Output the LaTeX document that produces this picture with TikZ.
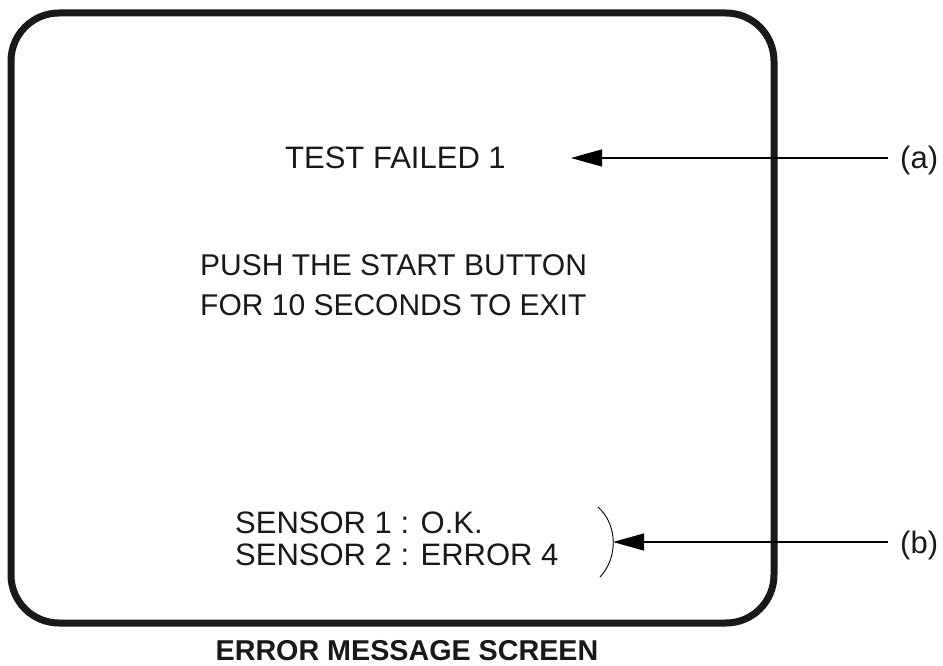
\documentclass[tikz,border=0pt]{standalone}
\usepackage{fontspec}
\setmainfont{Liberation Sans}
\usetikzlibrary{arrows.meta}
\begin{document}
\begin{tikzpicture}[x=1pt,y=-1pt,
  txt/.style={anchor=base west,inner sep=0pt,font=\fontsize{31}{34}\selectfont,text=black!90},
  lbl/.style={anchor=base west,inner sep=0pt,font=\fontsize{31}{34}\selectfont,text=black!90},
  ttl/.style={anchor=base,inner sep=0pt,font=\fontsize{28.7}{30}\selectfont\bfseries,text=black!90},
  ptr/.style={line width=1.2pt,-{Triangle[length=31pt,width=17pt]}},
  screen/.style={line width=7pt,rounded corners=48pt,draw=black!90}]
\useasboundingbox (0,0) rectangle (943,666);
\draw[screen] (11,13) rectangle (774,623);
\node[txt] (t1) at (285,168) {TEST FAILED 1};
\node[txt,font=\fontsize{30}{33}\selectfont] (p1) at (200,275) {PUSH THE START BUTTON};
\node[txt,font=\fontsize{30}{33}\selectfont] (p2) at (200,315) {FOR 10 SECONDS TO EXIT};
\node[txt] (s1) at (235,533) {SENSOR 1 : O.K.};
\node[txt] (s2) at (235,565) {SENSOR 2 : ERROR 4};
\node[lbl] (la) at (900,168) {(a)};
\node[lbl] (lb) at (900,553) {(b)};
\node[ttl] (title) at (407,660) {ERROR MESSAGE SCREEN};
\coordinate (ae) at (888,158);
\coordinate (at) at (571,158);
\coordinate (be) at (888,542);
\coordinate (bt) at (613,542);
\draw[ptr] (ae) -- (at);
\draw[ptr] (be) -- (bt);
\coordinate (br1) at (598,507);
\coordinate (br2) at (600,577);
\draw[line width=0.9pt] (br1) .. controls (618,525) and (618,558) .. (br2);
\end{tikzpicture}
\end{document}
